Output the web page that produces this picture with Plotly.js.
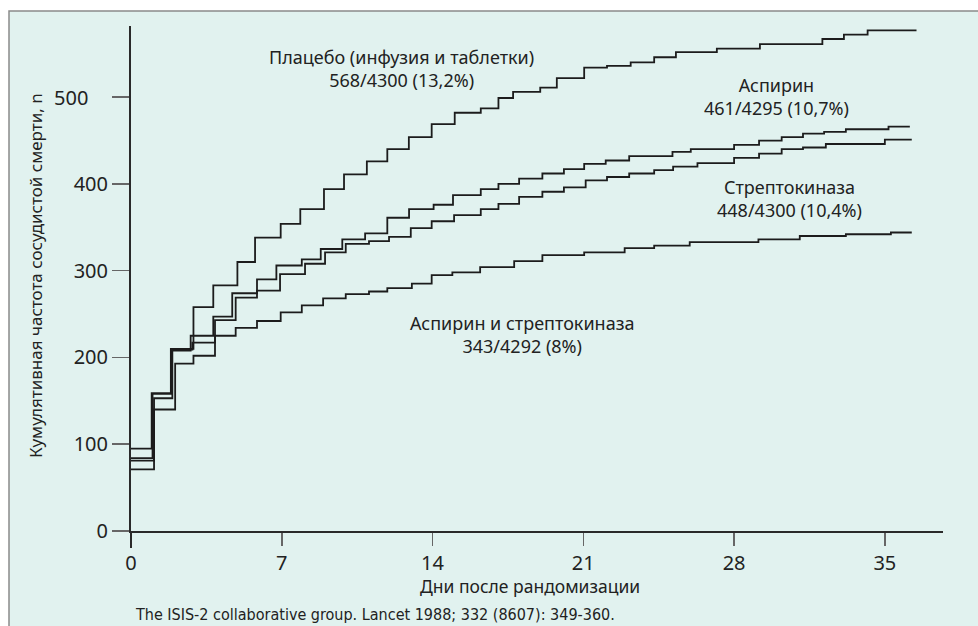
<!DOCTYPE html>
<html>
<head>
<meta charset="utf-8">
<script src="https://cdn.plot.ly/plotly-3.0.1.min.js"></script>
<style>html,body{margin:0;padding:0;background:#fff}#chart{width:978px;height:626px}</style>
</head>
<body>
<div id="chart"></div>
<script>
// ---- data ----
const placeboDays = [0, 0.96, 1.85, 2.9, 3.82, 4.94, 5.76, 6.95, 7.86, 8.96, 9.89, 10.95, 11.9, 12.9, 13.96, 15.03, 16.24, 17.06, 17.74, 19.0, 19.77, 21.04, 22.1, 23.2, 24.29, 25.3, 27.2, 29.2, 32.1, 33.1, 34.2, 36.47];
const placeboDeaths = [95, 159, 210, 258, 283, 310, 338, 354, 371, 394, 411, 426, 440, 454, 469, 482, 487, 499, 506, 511, 522, 534, 536, 540, 546, 552, 556, 561, 567, 572, 577, 577];

const aspirinDays = [0, 1.0, 1.89, 2.77, 3.82, 4.7, 5.85, 6.75, 7.93, 8.81, 9.81, 10.87, 11.9, 12.91, 14.05, 14.95, 16.24, 17.06, 18.02, 19.1, 20.1, 21.04, 22.04, 23.13, 25.14, 25.99, 28.0, 29.16, 30.21, 31.2, 32.18, 33.19, 35.17, 36.16];
const aspirinDeaths = [84, 158, 208, 225, 247, 274, 290, 306, 313, 325, 336, 343, 361, 371, 376, 387, 394, 400, 406, 412, 417, 423, 427, 432, 437, 440, 445, 450, 454, 458, 460, 463, 466, 466];

const streptoDays = [0, 1.07, 1.92, 2.85, 3.9, 4.86, 5.85, 6.92, 8.08, 9.01, 9.97, 11.05, 11.98, 12.99, 13.96, 15.0, 16.24, 17.06, 18.02, 19.1, 20.1, 21.11, 22.1, 23.13, 24.29, 25.17, 26.3, 28.0, 29.16, 30.21, 31.2, 32.26, 35.0, 36.25];
const streptoDeaths = [81, 153, 209, 217, 243, 269, 277, 296, 308, 321, 331, 334, 339, 349, 357, 364, 371, 377, 385, 391, 396, 404, 408, 412, 416, 420, 424, 430, 435, 440, 442, 446, 451, 451];

const comboDays = [0, 1.07, 2.05, 2.9, 3.9, 4.86, 5.85, 6.95, 7.93, 8.92, 9.97, 11.05, 11.9, 13.04, 13.96, 14.92, 16.21, 17.79, 19.1, 21.04, 22.92, 24.29, 25.94, 29.13, 31.05, 33.19, 35.28, 36.25];
const comboDeaths = [71, 140, 193, 202, 225, 234, 242, 252, 260, 268, 273, 276, 280, 285, 295, 298, 304, 311, 318, 321, 326, 329, 333, 336, 340, 342, 344, 344];

const xTickVals = [0, 7, 14, 21, 28, 35];
const xTickText = ['0', '7', '14', '21', '28', '35'];
const yTickVals = [0, 100, 200, 300, 400, 500];
const yTickText = ['0', '100', '200', '300', '400', ''];

const labelPlacebo = 'Плацебо (инфузия и таблетки)<br>568/4300 (13,2%)';
const labelAspirin = 'Аспирин<br>461/4295 (10,7%)';
const labelStrepto = 'Стрептокиназа<br>448/4300 (10,4%)';
const labelCombo = 'Аспирин и стрептокиназа<br>343/4292 (8%)';
const xTitle = 'Дни после рандомизации';
const yTitle = 'Кумулятивная частота сосудистой смерти, n';
const citation = 'The ISIS-2 collaborative group. Lancet 1988; 332 (8607): 349-360.';

// ---- chart ----
const FONT = 'Noto Sans, DejaVu Sans, sans-serif';
const lineStyle = {color: '#1c1c1c', width: 1.8, shape: 'hv'};
function series(x, y, name) {
  return {x: x, y: y, name: name, type: 'scatter', mode: 'lines', line: lineStyle, hoverinfo: 'skip'};
}
const traces = [
  series(placeboDays, placeboDeaths, 'Плацебо'),
  series(aspirinDays, aspirinDeaths, 'Аспирин'),
  series(streptoDays, streptoDeaths, 'Стрептокиназа'),
  series(comboDays, comboDeaths, 'Аспирин и стрептокиназа')
];

const W = 978, H = 626, L = 131, R = 35, T = 26, B = 95;
const pw = W - L - R, ph = H - T - B;
const px = v => (v - L) / pw;          // pixel -> paper x
const py = v => (H - B - v) / ph;      // pixel -> paper y

function note(text, x, y, xref, yref, size, extra) {
  return Object.assign({text: text, x: x, y: y, xref: xref, yref: yref, showarrow: false,
    xanchor: 'center', yanchor: 'middle', align: 'center', font: {size: size}}, extra || {});
}

const layout = {
  width: W, height: H,
  margin: {l: L, r: R, t: T, b: B, pad: 0},
  paper_bgcolor: '#ffffff',
  plot_bgcolor: 'rgba(0,0,0,0)',
  showlegend: false,
  font: {family: FONT, color: '#222', size: 18},
  xaxis: {
    range: [0, 37.7], showgrid: false, zeroline: false,
    showline: true, linecolor: '#2a2a2a', linewidth: 2,
    ticks: 'outside', ticklen: 13, tickwidth: 1.5, tickcolor: '#666',
    tickvals: xTickVals, ticktext: xTickText,
    tickfont: {size: 20, color: '#222', family: FONT}
  },
  yaxis: {
    range: [0, 582], showgrid: false, zeroline: false,
    showline: true, linecolor: '#2a2a2a', linewidth: 2,
    ticks: 'outside', ticklen: 17, tickwidth: 1.5, tickcolor: '#666',
    tickvals: yTickVals, ticktext: yTickText,
    tickfont: {size: 20, color: '#222', family: FONT}
  },
  shapes: [
    {type: 'rect', xref: 'paper', yref: 'paper', layer: 'below',
     x0: px(9), x1: px(990), y0: py(640), y1: py(11),
     fillcolor: '#e1f2ef', line: {color: '#8a8a8a', width: 1.5}},
    {type: 'line', xref: 'paper', yref: 'paper',
     x0: 0, x1: 0, y0: 0, y1: py(548), line: {color: '#2a2a2a', width: 2}}
  ],
  annotations: [
    note(labelPlacebo, 12.58, 533, 'x', 'y', 18),
    note(labelAspirin, 29.99, 501, 'x', 'y', 18),
    note(labelStrepto, 30.55, 383, 'x', 'y', 18),
    note(labelCombo, 18.15, 226.5, 'x', 'y', 18),
    note('500', px(70.5), 500, 'paper', 'y', 20),
    note(xTitle, px(530), py(586), 'paper', 'paper', 17.5),
    note(yTitle, px(35), py(276), 'paper', 'paper', 17, {textangle: -90}),
    note(citation, px(133), py(614), 'paper', 'paper', 16,
      {xanchor: 'left', font: {size: 16, family: 'Liberation Sans Narrow, DejaVu Sans Condensed, Noto Sans, sans-serif'}})
  ]
};

Plotly.newPlot('chart', traces, layout, {staticPlot: true, displayModeBar: false});
</script>
</body>
</html>
